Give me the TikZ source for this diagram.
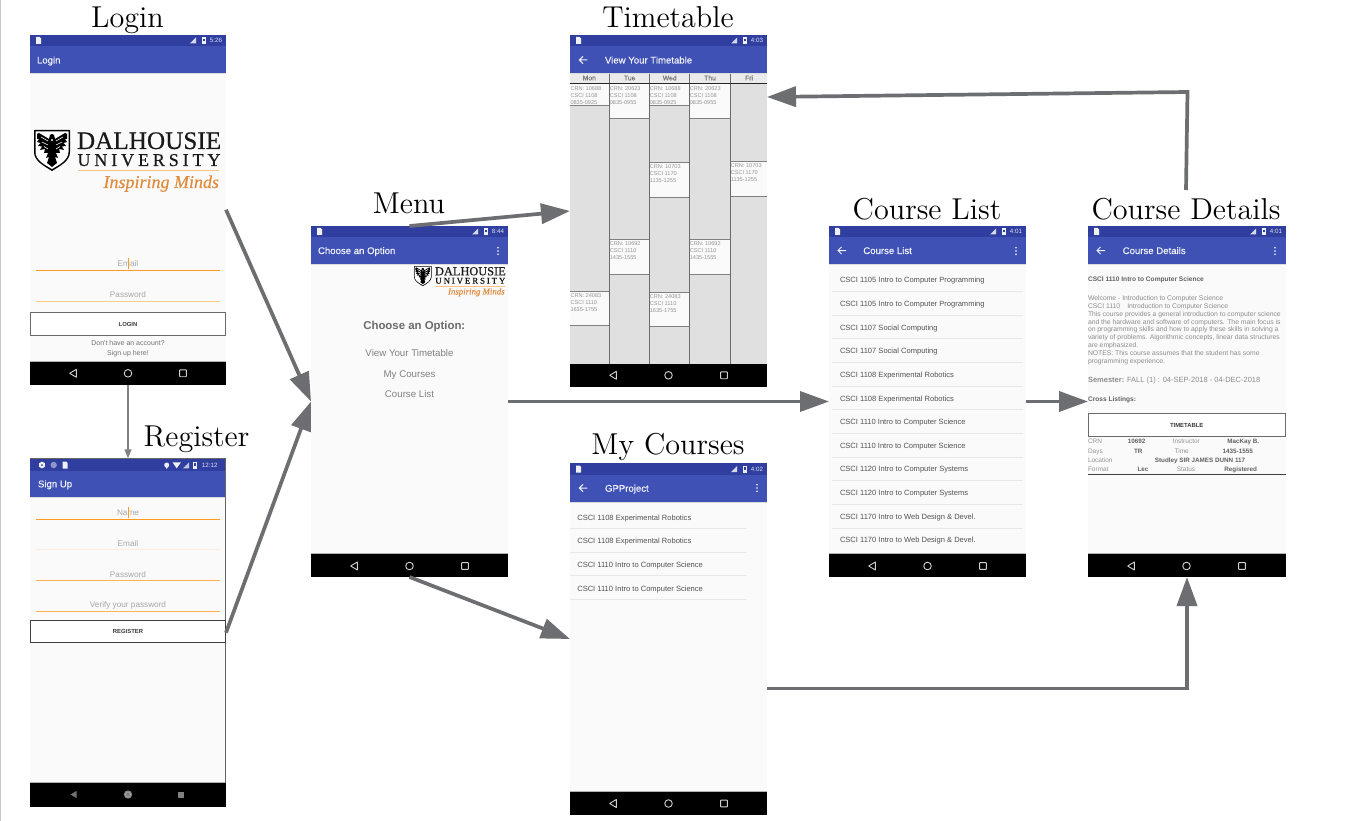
\documentclass[tikz,border=0pt]{standalone}
\usepackage{fontspec}
\usetikzlibrary{arrows.meta,fit}
\newfontfamily\uif{Liberation Sans}
\newfontfamily\uifm{Liberation Sans}[FakeBold=0.35]
\newfontfamily\logof{Liberation Serif}[FakeBold=0.5]
\newfontfamily\logoi{Liberation Serif Italic}[FakeBold=0.25]
\newfontfamily\capf{lmroman12-regular.otf}
\definecolor{statc}{HTML}{303F9F}
\definecolor{appc}{HTML}{3F51B5}
\definecolor{bodyc}{HTML}{FAFAFA}
\definecolor{arrc}{HTML}{6D6E71}
\definecolor{orangeA}{HTML}{FF9A1F}
\definecolor{orangeB}{HTML}{FFC98A}
\definecolor{orangeC}{HTML}{FBEEDC}
\definecolor{orangeD}{HTML}{FFB24D}
\definecolor{logoor}{HTML}{E08A3C}
\definecolor{cellbg}{HTML}{E0E0E0}
\newcommand\fs[1]{\fontsize{#1}{#1}\selectfont}
\newcounter{tn}
\newcommand\T[5]{\stepcounter{tn}\node[anchor=#1,inner sep=0pt,outer sep=0pt,name=t\arabic{tn},#4] at (#2,{#3}) {#5};}
\tikzset{
  captiontxt/.style={font=\capf\fs{30.2},text=black},
  apptitle/.style={font=\uifm\fs{9.6},text=white!92!appc},
  stattime/.style={font=\uif\fs{6.2},text=white!85!statc},
  hinttxt/.style={font=\uif\fs{8.2},text=black!35},
  btntxt/.style={font=\uif\bfseries\fs{5.9},text=black!78},
  smalltxt/.style={font=\uif\fs{7},text=black!55},
  menuhead/.style={font=\uif\bfseries\fs{11.4},text=black!58},
  menutxt/.style={font=\uif\fs{9.7},text=black!50},
  listtxt/.style={font=\uif\fs{7.55},text=black!68},
  dayhead/.style={font=\uifm\fs{6.8},text=black!55},
  celltxt/.style={font=\uif\fs{5.6},text=black!42},
  dettxt/.style={font=\uif\fs{6.8},text=black!45},
  detsem/.style={font=\uif\fs{7.5},text=black!45},
  dettitle/.style={font=\uif\bfseries\fs{6.6},text=black!62},
  tabletxt/.style={font=\uif\fs{6.5},text=black!42},
  detbold/.style={font=\uif\bfseries\fs{6.3},text=black!62},
  logoA/.style={font=\logof\fs{25.2},text=black!90},
  logoB/.style={font=\logof\fs{18},text=black!90},
  logoC/.style={font=\logoi\fs{18},text=logoor},
  navline/.style={draw=black!18,line width=0.9pt,line join=round},
  bigarrow/.style={draw=arrc,line width=3.7pt,-{Triangle[length=29pt,width=20pt]}},
  thinarrow/.style={draw=black!50,line width=1.5pt,-{Triangle[length=9pt,width=7pt]}},
  btnbox/.style={draw=black!58,line width=0.9pt,fill=white},
  fieldline/.style={line width=0.9pt},
  seprow/.style={draw=black!9,line width=0.7pt},
  cellline/.style={draw=black!50,line width=0.8pt},
  scrbox/.style={inner sep=0pt,outer sep=0pt}
}
% name, left, right, top, status end, app end, nav top, bottom
\newcommand\screen[8]{
  \fill[bodyc] (#2,#4) rectangle (#3,#8);
  \fill[statc] (#2,#4) rectangle (#3,#5);
  \fill[appc] (#2,#5) rectangle (#3,#6);
  \fill[black!14] (#2,#6) rectangle (#3,{#6+0.9});
  \fill[black!30] (#2,{#7-0.8}) rectangle (#3,#7);
  \fill[black] (#2,#7) rectangle (#3,#8);
  \node[fit={(#2,#4)(#3,#8)},scrbox] (#1) {};
}
% three positions and centre y
\newcommand\navicons[4]{
  \draw[navline] (#1+3.3,#4-4) -- (#1+3.3,#4+4) -- (#1-3.3,#4) -- cycle;
  \draw[navline] (#2,#4) circle (3.8);
  \draw[navline,rounded corners=0.5pt] (#3-3.4,#4-3.4) rectangle (#3+3.4,#4+3.4);
}
\newcommand\sdicon[2]{
  \fill[white!92!statc] (#1,#2-3.5) -- (#1+3.6,#2-3.5) -- (#1+5,#2-2.2) -- (#1+5,#2+3.5) -- (#1,#2+3.5) -- cycle;
}
% right edge, centre y, time
\newcommand\statright[3]{
  \fill[white!80!statc] (#1-30,#2-3) -- (#1-30,#2+3) -- (#1-36,#2+3) -- cycle;
  \fill[white!92!statc] (#1-24.5,#2-3.3) rectangle (#1-20.5,#2+3.5);
  \fill[statc] (#1-23.5,#2-1.8) rectangle (#1-21.5,#2+1);
  \T{base east}{#1-4}{#2+2.2}{stattime}{#3}
}
\newcommand\backarrow[2]{
  \draw[white!92!appc,line width=1pt] (#1,#2) -- (#1+8,#2) (#1+3.6,#2-3.6) -- (#1,#2) -- (#1+3.6,#2+3.6);
}
\newcommand\kebab[2]{
  \foreach \dd in {-3.2,0,3.2}{\fill[white] (#1,#2+\dd) circle (0.9);}
}
\newcommand\field[5]{% baseline, line y, colour, text, cursor
  \T{base}{128}{#1}{hinttxt}{#4}
  \draw[#3,fieldline] (36,#2) -- (219.5,#2);
  #5
}
% origin x, y, scale
\newcommand\dallogo[3]{
  \begin{scope}[shift={(#1,#2)},scale=#3,transform shape]
    \fill[black] (0,0) -- (36,0) -- (36,22) .. controls (36,31) and (26,36) .. (18,41) .. controls (10,36) and (0,31) .. (0,22) -- cycle;
    \fill[white] (1.5,1.5) -- (34.5,1.5) -- (34.5,22) .. controls (34.5,30) and (25,35) .. (18,39) .. controls (11,35) and (1.5,30) .. (1.5,22) -- cycle;
    \foreach \s in {1,-1}{
      \begin{scope}[shift={(18,0)},xscale=\s]
        \fill[black] (0,4) -- (2,5) -- (3,9) -- (13,3) -- (15,4) -- (15,9) -- (13,9) -- (15,12) -- (11.5,13) -- (14,16) -- (10,16.5) -- (12,20) -- (7,19) -- (8,23) -- (4,23) -- (6,28) -- (3,27) -- (5,33) -- (0,37) -- cycle;
        \draw[white,line width=0.6pt] (4,11) -- (11,7) (4,15) -- (10,12) (4,19) -- (8,16.5);
      \end{scope}
    }
    \fill[white] (18,10) circle (1.2);
    \T{base west}{43}{19}{logoA}{DALHOUSIE}
    \T{base west}{43.5}{36}{logoB}{\makebox[143pt][s]{U\hfill N\hfill I\hfill V\hfill E\hfill R\hfill S\hfill I\hfill T\hfill Y}}
    \draw[orangeB!90!logoor,line width=1pt] (44,41) -- (185,41);
    \T{base east}{185}{58}{logoC}{Inspiring Minds}
  \end{scope}
}
% left, right, top, bottom, crn, csci, time
\newcommand\cell[7]{
  \fill[bodyc] (#1,#3) rectangle (#2,#4);
  \draw[cellline] (#1,#4) -- (#2,#4);
  \T{base west}{#1+0.5}{#3+6.3}{celltxt}{CRN: #5}
  \T{base west}{#1+0.5}{#3+13.2}{celltxt}{CSCI #6}
  \T{base west}{#1+0.5}{#3+20.2}{celltxt}{#7}
}
\begin{document}
\begin{tikzpicture}[x=1pt,y=-1pt]
\useasboundingbox (0,0) rectangle (1360,821);
\fill[white] (0,0) rectangle (1360,821);
\draw[black!22,line width=1pt] (0.5,0) -- (0.5,821);

% ---------- Login
\screen{login}{30}{226}{35}{46}{73}{362}{384.5}
\sdicon{36}{40.5}
\statright{226}{40.5}{5:26}
\T{base west}{37}{63.5}{apptitle}{Login}
\dallogo{34}{130}{1}
\field{266.7}{270.2}{orangeA}{Email}{\draw[orangeA,line width=0.8pt] (128,258) -- (128,269);}
\field{297.7}{301.2}{orangeB}{Password}{}
\draw[btnbox] (30.4,312.5) rectangle (225.6,335.8);
\T{base}{128}{326}{btntxt}{LOGIN}
\T{base}{128}{345.3}{smalltxt}{Don't have an account?}
\T{base}{128}{355}{smalltxt}{Sign up here!}
\navicons{73}{128}{183}{373.3}

% ---------- Register
\screen{register}{30}{226}{458.3}{471}{497}{783}{807}
\draw[black!60,line width=0.7pt] (30,458.3) -- (226,458.3) (225.6,458.3) -- (225.6,783);
\fill[white!92!statc] (42,461.6) -- (44.8,463.2) -- (44.8,466.8) -- (42,468.4) -- (39.2,466.8) -- (39.2,463.2) -- cycle;
\fill[statc] (42,465) circle (1);
\fill[white!45!statc] (53.7,465) circle (3.2);
\sdicon{62.5}{465}
\fill[white!92!statc] (166.7,465) circle (2.5);
\fill[white!92!statc] (165,466) -- (168.4,466) -- (166.7,469) -- cycle;
\fill[white!92!statc] (172.5,462.3) -- (181,462.3) -- (176.7,468.3) -- cycle;
\fill[white!70!statc] (189,462.3) -- (189,468.3) -- (183,468.3) -- cycle;
\fill[white!92!statc] (193,461.7) rectangle (197,468.5);
\fill[statc] (194,463.2) rectangle (196,466);
\T{base east}{217.5}{467.2}{stattime}{12:12}
\T{base west}{38}{487.3}{apptitle}{Sign Up}
\field{515.7}{519.4}{orangeA}{Name}{\draw[orangeA,line width=0.7pt] (128,507) -- (128,518);}
\field{546.3}{549.8}{orangeC}{Email}{}
\field{577}{580.4}{orangeD}{Password}{}
\field{607.7}{611.4}{orangeD}{Verify your password}{}
\draw[btnbox,draw=black!75] (30.4,620.3) rectangle (225.5,642.3);
\T{base}{128}{633.9}{btntxt}{REGISTER}
\fill[black!55] (76.5,791) -- (76.5,798) -- (70.5,794.5) -- cycle;
\fill[black!50] (128,794.5) circle (4.2);
\draw[black!30,line width=0.5pt] (128,794.5) circle (2.6);
\fill[black!50] (178,791.5) rectangle (184,797.5);

% ---------- Menu
\screen{menu}{311}{508}{226}{237}{264}{554}{577}
\sdicon{317}{231.5}
\statright{508}{231.5}{8:44}
\T{base west}{318}{254}{apptitle}{Choose an Option}
\kebab{498}{251}
\dallogo{414}{266}{0.49}
\T{base}{414.3}{329.3}{menuhead}{Choose an Option:}
\T{base}{409.5}{356.7}{menutxt}{View Your Timetable}
\T{base}{409.5}{377}{menutxt}{My Courses}
\T{base}{409.5}{397}{menutxt}{Course List}
\navicons{354}{409.5}{465}{566}

% ---------- Timetable
\screen{timetable}{570}{767}{35}{46}{73}{363.5}{387}
\sdicon{576}{40.5}
\statright{767}{40.5}{4:03}
\backarrow{579.3}{60}
\T{base west}{605}{63.5}{apptitle}{View Your Timetable}
\fill[cellbg] (570,83) rectangle (767,363.5);
\fill[black!8] (570,74) rectangle (767,83);
\T{base}{589.3}{80.3}{dayhead}{Mon}
\T{base}{629.7}{80.3}{dayhead}{Tue}
\T{base}{669.7}{80.3}{dayhead}{Wed}
\T{base}{710}{80.3}{dayhead}{Thu}
\T{base}{749}{80.3}{dayhead}{Fri}
\cell{570}{609.3}{84}{105.3}{10688}{1108}{0835-0925}
\cell{570}{609.3}{291.2}{325.7}{24083}{1110}{1635-1755}
\cell{609.3}{649.3}{84}{118.7}{20623}{1108}{0835-0955}
\cell{609.3}{649.3}{239.5}{274}{10692}{1110}{1435-1555}
\cell{649.3}{689.3}{84}{105.3}{10688}{1108}{0835-0925}
\cell{649.3}{689.3}{162.3}{197.3}{10703}{1170}{1135-1255}
\cell{649.3}{689.3}{292.5}{326.3}{24083}{1110}{1635-1755}
\cell{689.3}{730.3}{84}{118.7}{20623}{1108}{0835-0955}
\cell{689.3}{730.3}{239.5}{274}{10692}{1110}{1435-1555}
\cell{730.3}{767}{161.7}{196.3}{10703}{1170}{1135-1255}
\draw[cellline] (570,291.2) -- (609.3,291.2) (609.3,239.5) -- (649.3,239.5) (649.3,162.3) -- (689.3,162.3) (649.3,292.5) -- (689.3,292.5) (689.3,239.5) -- (730.3,239.5) (730.3,161.7) -- (767,161.7);
\foreach \xx in {609.3,649.3,689.3,730.3}{\draw[draw=black!58,line width=0.8pt] (\xx,74) -- (\xx,363.5);}
\draw[black!85,line width=0.9pt] (570,83.2) -- (767,83.2);
\navicons{613}{668.5}{724}{375.3}

% ---------- My Courses
\screen{mycourses}{570}{767}{463}{475}{502}{792}{815}
\sdicon{576}{469}
\statright{767}{469}{4:02}
\backarrow{579.3}{488}
\T{base west}{605}{491.7}{apptitle}{GPProject}
\kebab{757}{488}
\foreach \yy/\tx in {520/CSCI 1108 Experimental Robotics,543.7/CSCI 1108 Experimental Robotics,567.3/CSCI 1110 Intro to Computer Science,591/CSCI 1110 Intro to Computer Science}{
  \T{base west}{577.3}{\yy}{listtxt}{\tx}
  \draw[seprow] (570,\yy+8.5) -- (747,\yy+8.5);
}
\navicons{613}{668.5}{724}{803.5}

% ---------- Course List
\screen{courselist}{829}{1026}{226}{237}{264}{554}{577}
\sdicon{835}{231.5}
\statright{1026}{231.5}{4:01}
\backarrow{838}{250.5}
\T{base west}{863.3}{254}{apptitle}{Course List}
\kebab{1016}{251}
\foreach \i/\tx in {0/CSCI 1105 Intro to Computer Programming,1/CSCI 1105 Intro to Computer Programming,2/CSCI 1107 Social Computing,3/CSCI 1107 Social Computing,4/CSCI 1108 Experimental Robotics,5/CSCI 1108 Experimental Robotics,6/CSCI 1110 Intro to Computer Science,7/CSCI 1110 Intro to Computer Science,8/CSCI 1120 Intro to Computer Systems,9/CSCI 1120 Intro to Computer Systems,10/CSCI 1170 Intro to Web Design \& Devel.,11/CSCI 1170 Intro to Web Design \& Devel.}{
  \T{base west}{840}{282.7+\i*23.66}{listtxt}{\tx}
  \ifnum\i<11 \draw[seprow] (832.3,{291.3+\i*23.66}) -- (1022.7,{291.3+\i*23.66}); \fi
}
\navicons{872}{927.5}{983}{566}

% ---------- Course Details
\screen{details}{1088}{1286}{226}{237}{264}{554}{577}
\sdicon{1094}{231.5}
\statright{1286}{231.5}{4:01}
\backarrow{1097}{250.5}
\T{base west}{1122.7}{254}{apptitle}{Course Details}
\kebab{1275}{251}
\T{base west}{1088}{281.3}{dettitle}{CSCI 1110 Intro to Computer Science}
\foreach \i/\tx in {0/Welcome - Introduction to Computer Science,1/CSCI 1110\hspace{7pt}Introduction to Computer Science,2/This course provides a general introduction to computer science,3/and the hardware and software of computers. The main focus is,4/on programming skills and how to apply these skills in solving a,5/variety of problems. Algorithmic concepts{,} linear data structures,6/are emphasized.,7/NOTES: This course assumes that the student has some,8/programming experience.}{
  \T{base west}{1088}{300.3+\i*7.9}{dettxt}{\tx}
}
\T{base west}{1088}{382.3}{detsem}{{\bfseries Semester:} FALL (1) : 04-SEP-2018 - 04-DEC-2018}
\T{base west}{1088}{401.7}{dettitle}{Cross Listings:}
\draw[btnbox] (1088.4,413.3) rectangle (1285.6,436);
\T{base}{1186.7}{427}{btntxt}{TIMETABLE}
\T{base west}{1088}{443.7}{tabletxt}{CRN}
\T{base}{1136.7}{443.7}{detbold}{10692}
\T{base}{1186.3}{443.7}{tabletxt}{Instructor}
\T{base}{1243.3}{443.7}{detbold}{MacKay B.}
\T{base west}{1088}{453}{tabletxt}{Days}
\T{base}{1138.3}{453}{detbold}{TR}
\T{base}{1181.7}{453}{tabletxt}{Time}
\T{base}{1237.7}{453}{detbold}{1435-1555}
\T{base west}{1088}{462.3}{tabletxt}{Location}
\T{base}{1200}{462.3}{detbold}{Studley SIR JAMES DUNN 117}
\T{base west}{1088}{471.7}{tabletxt}{Format}
\T{base}{1143}{471.7}{detbold}{Lec}
\T{base}{1186}{471.7}{tabletxt}{Status}
\T{base}{1240.7}{471.7}{detbold}{Registered}
\draw[black!75,line width=0.9pt] (1088,474) -- (1286,474);
\navicons{1131}{1186.5}{1242}{566}

% ---------- Captions
\T{base}{127.5}{28}{captiontxt}{Login}
\T{base}{196.5}{446.5}{captiontxt}{Register}
\T{base}{409}{213.5}{captiontxt}{Menu}
\T{base}{668}{28}{captiontxt}{Timetable}
\T{base}{668}{454.5}{captiontxt}{My Courses}
\T{base}{927}{219}{captiontxt}{Course List}
\T{base}{1186}{219}{captiontxt}{Course Details}

% ---------- Connectors
\coordinate (detailsOut) at (1186,190);
\coordinate (upperBend) at (1187.5,92);
\coordinate (timetableIn) at (767,97);
\coordinate (coursesOut) at (767,688.5);
\coordinate (lowerBend) at (1187,688.5);
\draw[thinarrow] (login.south) -- (register.north);
\draw[bigarrow] (login.east) -- (menu.west);
\draw[bigarrow] (register.east) -- (menu.west);
\draw[bigarrow] (menu.north) -- (timetable.west);
\draw[bigarrow] (menu.east) -- (courselist.west);
\draw[bigarrow] (menu.south) -- (mycourses.west);
\draw[bigarrow] (courselist.east) -- (details.west);
\draw[bigarrow] (detailsOut) -- (upperBend) -- (timetableIn);
\draw[bigarrow] (coursesOut) -- (lowerBend) -- (details.south);
\end{tikzpicture}
\end{document}
